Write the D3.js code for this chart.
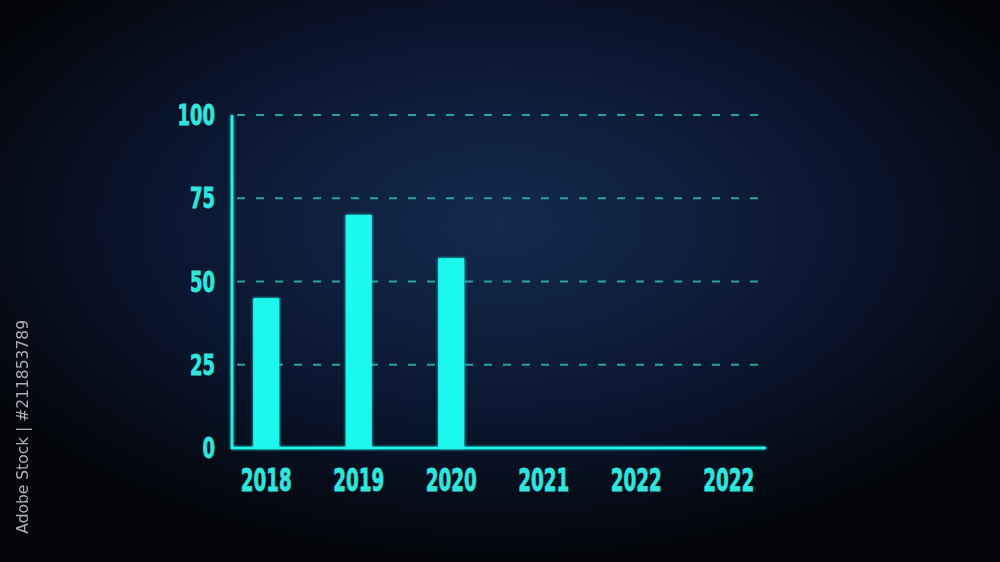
<!DOCTYPE html>
<html><head><meta charset="utf-8">
<script src="https://cdn.jsdelivr.net/npm/d3@7"></script>
<style>html,body{margin:0;padding:0;background:#05070d;overflow:hidden}</style>
</head><body>
<svg id="c" width="1000" height="562"></svg>
<script>
const categories = ["2018","2019","2020","2021","2022","2022"];
const values = [45, 70, 57, null, null, null];
const yTicks = [0, 25, 50, 75, 100];

const svg = d3.select("#c");
const defs = svg.append("defs");
const rg = defs.append("radialGradient").attr("id","bg").attr("cx","50%").attr("cy","40%").attr("r","60%");
rg.append("stop").attr("offset","0%").attr("stop-color","#142a4e");
rg.append("stop").attr("offset","55%").attr("stop-color","#0b1730");
rg.append("stop").attr("offset","100%").attr("stop-color","#03050a");
const gl = defs.append("filter").attr("id","glow").attr("x","-20%").attr("y","-20%").attr("width","140%").attr("height","140%");
gl.append("feGaussianBlur").attr("stdDeviation",1.5).attr("result","b");
const m = gl.append("feMerge"); m.append("feMergeNode").attr("in","b"); m.append("feMergeNode").attr("in","SourceGraphic");

svg.append("rect").attr("width",1000).attr("height",562).attr("fill","url(#bg)");

const x = d3.scaleBand().domain(d3.range(categories.length)).range([220,775]).paddingInner(0.72).paddingOuter(0.36);
const y = d3.scaleLinear().domain([0,100]).range([448,115]);
const cyan = "#22f4ea";

// gridlines
svg.append("g").selectAll("line").data(yTicks.filter(d=>d>0)).join("line")
  .attr("x1",237).attr("x2",768).attr("y1",d=>y(d)).attr("y2",d=>y(d))
  .attr("stroke","#2aa39e").attr("stroke-width",2).attr("stroke-dasharray","8,11");

// bars
svg.append("g").attr("filter","url(#glow)").selectAll("rect").data(values.map((v,i)=>({v,i})).filter(d=>d.v!=null)).join("rect")
  .attr("x",d=>x(d.i)+ (x.bandwidth()-26)/2).attr("width",26)
  .attr("y",d=>y(d.v)).attr("height",d=>y(0)-y(d.v)).attr("fill","#1ff8ee");

// axes lines
const ax = svg.append("g").attr("filter","url(#glow)");
ax.append("line").attr("x1",232).attr("x2",232).attr("y1",y(100)).attr("y2",y(0)+1).attr("stroke",cyan).attr("stroke-width",2.5);
ax.append("line").attr("x1",231).attr("x2",766).attr("y1",y(0)).attr("y2",y(0)).attr("stroke",cyan).attr("stroke-width",2.5);

const font = "'DejaVu Sans Condensed','DejaVu Sans',sans-serif";
// y labels
svg.append("g").selectAll("text").data(yTicks).join("text")
  .attr("x",215).attr("y",d=>y(d)+10).attr("text-anchor","end")
  .attr("font-family",font).attr("font-weight","bold").attr("font-size",28)
  .attr("textLength",d=>String(d).length*12.5).attr("lengthAdjust","spacingAndGlyphs")
  .attr("fill","#2ee6de").attr("stroke","#2ee6de").attr("stroke-width",0.8).text(d=>d);
// x labels
svg.append("g").selectAll("text").data(categories).join("text")
  .attr("x",(d,i)=>x(i)+x.bandwidth()/2).attr("y",491).attr("text-anchor","middle")
  .attr("font-family",font).attr("font-weight","bold").attr("font-size",32)
  .attr("textLength",51).attr("lengthAdjust","spacingAndGlyphs")
  .attr("fill","#2ee6de").attr("stroke","#2ee6de").attr("stroke-width",0.8).text(d=>d);

// side watermark text
svg.append("text").attr("transform","translate(28,320) rotate(-90)").attr("text-anchor","end")
  .attr("font-family","'DejaVu Sans',sans-serif").attr("font-size",15.5).attr("fill","#c8ccd2").attr("opacity",0.85)
  .text("Adobe Stock | #211853789");
</script>
</body></html>
